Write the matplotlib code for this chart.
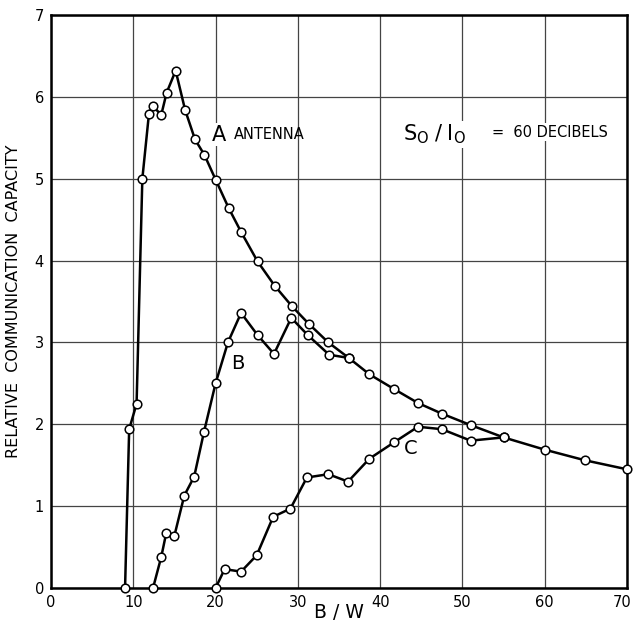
import matplotlib.pyplot as plt
from matplotlib.transforms import ScaledTranslation

# curve A (antenna)
a_x = [9.0, 9.5, 10.4, 11.1, 11.9, 12.35, 13.4, 14.05, 15.15, 16.3, 17.5, 18.65, 20.0,
       21.6, 23.1, 25.1, 27.2, 29.3, 31.3, 33.7, 36.2, 38.7, 41.7, 44.6, 47.5, 51.0,
       55.0, 60.0, 64.9, 70.0]
a_y = [0.0, 1.94, 2.25, 5.0, 5.79, 5.89, 5.78, 6.05, 6.32, 5.84, 5.48, 5.29, 4.99,
       4.64, 4.35, 3.99, 3.69, 3.44, 3.23, 3.0, 2.81, 2.61, 2.43, 2.26, 2.13, 1.99,
       1.84, 1.69, 1.56, 1.45]

# curve B
b_x = [12.4, 13.4, 14.0, 15.0, 16.2, 17.4, 18.6, 20.0, 21.5, 23.1, 25.1, 27.1, 29.2,
       31.2, 33.8, 36.2]
b_y = [0.0, 0.38, 0.67, 0.64, 1.13, 1.36, 1.91, 2.5, 3.0, 3.36, 3.09, 2.86, 3.3,
       3.09, 2.85, 2.81]

# curve C
c_x = [20.0, 21.1, 23.1, 25.0, 27.0, 29.1, 31.1, 33.7, 36.1, 38.7, 41.7, 44.6, 47.5,
       51.0, 55.0]
c_y = [0.0, 0.23, 0.2, 0.4, 0.87, 0.97, 1.35, 1.39, 1.3, 1.58, 1.78, 1.97, 1.94,
       1.8, 1.84]

x_ticks = [0, 10, 20, 30, 40, 50, 60, 70]
y_ticks = [0, 1, 2, 3, 4, 5, 6, 7]

fig = plt.figure(figsize=(6.34, 6.26), dpi=100)
ax = fig.add_axes([51 / 634, 38 / 626, 576 / 634, 573 / 626])

for xs, ys in [(a_x, a_y), (b_x, b_y), (c_x, c_y)]:
    ax.plot(xs, ys, color="black", lw=1.8, marker="o", ms=6.2,
            mfc="white", mec="black", mew=1.1, zorder=3, clip_on=False)

ax.set_xlim(0, 70)
ax.set_ylim(0, 7)
ax.set_xticks(x_ticks)
ax.set_yticks(y_ticks)
ax.grid(True, color="#444444", lw=0.9)
ax.tick_params(length=0, labelsize=10.5, pad=5)
for s in ax.spines.values():
    s.set_linewidth(1.8)

# keep the "70" inside the picture
last = ax.get_xticklabels()[-1]
last.set_horizontalalignment("right")
last.set_transform(last.get_transform() + ScaledTranslation(5 / 100, 0, fig.dpi_scale_trans))

fig.text(339 / 634, 14 / 626, "B / W", fontsize=13.5, ha="center", va="center")
ax.set_ylabel("RELATIVE  COMMUNICATION  CAPACITY", fontsize=11.5, labelpad=10)

ax.text(20.4, 5.54, "A", fontsize=15, ha="center", va="center",
        bbox=dict(fc="white", ec="none", pad=1))
ax.text(22.2, 5.54, "ANTENNA", fontsize=10.5, ha="left", va="center")
ax.text(22.7, 2.74, "B", fontsize=14, ha="center", va="center")
ax.text(43.7, 1.71, "C", fontsize=14, ha="center", va="center")
ax.text(42.8, 5.54, r"$\mathsf{S_O\;/\;I_O}$", fontsize=15, ha="left", va="center",
        bbox=dict(fc="white", ec="none", pad=1))
ax.text(53.6, 5.57, "=  60 DECIBELS", fontsize=10.5, ha="left", va="center",
        bbox=dict(fc="white", ec="none", pad=1))

fig.savefig("out.png", dpi=100)
